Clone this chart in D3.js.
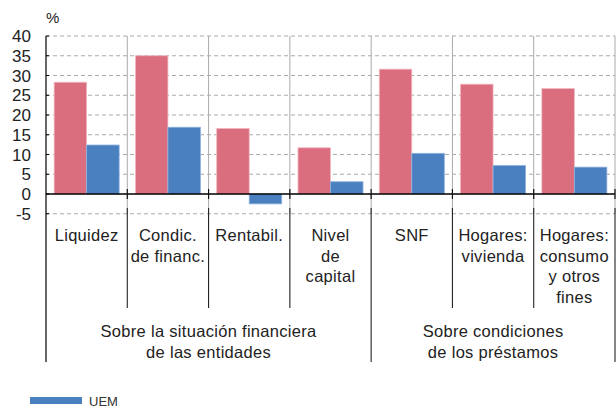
<!DOCTYPE html>
<html><head><meta charset="utf-8">
<script src="https://cdn.jsdelivr.net/npm/d3@7"></script>
<style>
body{margin:0;background:#fff;}
text{font-family:"Liberation Sans",Arial,Helvetica,sans-serif;fill:#222;}
</style></head>
<body><svg id="c" width="616" height="408"></svg>
<script>
const categories = [
  ["Liquidez"], ["Condic.","de financ."], ["Rentabil."], ["Nivel","de","capital"],
  ["SNF"], ["Hogares:","vivienda"], ["Hogares:","consumo","y otros","fines"]
];
const seriesNames = ["España","UEM"];
const espana = [28.3, 35.0, 16.6, 11.7, 31.6, 27.8, 26.7];
const uem    = [12.4, 16.9, -2.5, 3.1, 10.3, 7.2, 6.8];
const groups = [
  {label:["Sobre la situación financiera","de las entidades"], from:0, to:3},
  {label:["Sobre condiciones","de los préstamos"], from:4, to:6}
];
const yTicks = [-5,0,5,10,15,20,25,30,35,40];
const colors = ["#db6e7e","#4a7fc0"];

const svg = d3.select("#c");
const L=46, R=615, T=36;
const y = d3.scaleLinear().domain([-5,40]).range([213.75,T]);
const x = d3.scaleBand().domain(d3.range(categories.length)).range([L,R]).padding(0);
const xs = d3.scaleBand().domain([0,1]).range([0,x.bandwidth()]).paddingOuter(0.25).paddingInner(0);

// gridlines
svg.append("g").selectAll("line").data(yTicks.filter(d=>d!==0)).join("line")
  .attr("x1",L).attr("x2",R).attr("y1",d=>y(d)).attr("y2",d=>y(d))
  .attr("stroke","#aaa").attr("stroke-dasharray","4,3").attr("stroke-width",1);

// vertical separators in plot
const seps = d3.range(categories.length+1).map(i=> i<categories.length ? x(i) : R);
svg.append("g").selectAll("line").data(seps.slice(1)).join("line")
  .attr("x1",d=>d).attr("x2",d=>d).attr("y1",T).attr("y2",y(-5))
  .attr("stroke","#aaa").attr("stroke-width",1);

// bars
const data = categories.map((c,i)=>[espana[i],uem[i]]);
const gBars = svg.append("g");
data.forEach((vals,i)=>{
  vals.forEach((v,j)=>{
    gBars.append("rect")
      .attr("x",x(i)+xs(j)).attr("width",xs.bandwidth())
      .attr("y",y(Math.max(0,v))).attr("height",Math.abs(y(v)-y(0)))
      .attr("fill",colors[j])
      .attr("stroke",j===0?"#f2b8c1":"#8fb0de").attr("stroke-width",0.8);
  });
});

// zero axis
svg.append("line").attr("x1",L).attr("x2",R).attr("y1",y(0)).attr("y2",y(0))
  .attr("stroke","#000").attr("stroke-width",1.5);
svg.append("g").selectAll("line").data(seps.slice(1)).join("line")
  .attr("x1",d=>d).attr("x2",d=>d).attr("y1",y(0)-5).attr("y2",y(0)+5)
  .attr("stroke","#111").attr("stroke-width",1.2);

// left axis
svg.append("line").attr("x1",L).attr("x2",L).attr("y1",T).attr("y2",362)
  .attr("stroke","#000").attr("stroke-width",1.2);
svg.append("g").selectAll("line").data(yTicks).join("line")
  .attr("x1",L).attr("x2",L+3).attr("y1",d=>y(d)).attr("y2",d=>y(d))
  .attr("stroke","#000");

// y labels
svg.append("g").selectAll("text").data(yTicks).join("text")
  .attr("x",31).attr("y",d=>y(d)).attr("dy","0.36em")
  .attr("text-anchor","end").attr("font-size",17).text(d=>d);
svg.append("text").attr("x",46).attr("y",23).attr("font-size",15).text("%");

// label-area separators
const groupEdges = new Set([0,4,7]);
svg.append("g").selectAll("line").data(d3.range(1,categories.length+1)).join("line")
  .attr("x1",i=>seps[i]).attr("x2",i=>seps[i])
  .attr("y1",208).attr("y2",i=>groupEdges.has(i)?362:308)
  .attr("stroke","#222").attr("stroke-width",1.1);

// category labels
categories.forEach((lines,i)=>{
  const t = svg.append("text").attr("text-anchor","middle").attr("font-size",16.5).attr("letter-spacing",0.3);
  lines.forEach((ln,k)=>{
    t.append("tspan").attr("x",x(i)+x.bandwidth()/2).attr("y",241+k*20.7).text(ln);
  });
});

// group labels
groups.forEach(g=>{
  const cx = (x(g.from) + (g.to+1<categories.length? x(g.to+1):R))/2;
  const t = svg.append("text").attr("text-anchor","middle").attr("font-size",16.5).attr("letter-spacing",0.3);
  g.label.forEach((ln,k)=>{
    t.append("tspan").attr("x",cx).attr("y",337+k*20.5).text(ln);
  });
});

// legend
svg.append("rect").attr("x",30).attr("y",397).attr("width",52).attr("height",7).attr("fill",colors[1]);
svg.append("text").attr("x",89).attr("y",406).attr("font-size",13).style("fill","#333")
  .attr("font-family","'Liberation Sans Narrow','Roboto Condensed',sans-serif").text(seriesNames[1]);
</script></body></html>
